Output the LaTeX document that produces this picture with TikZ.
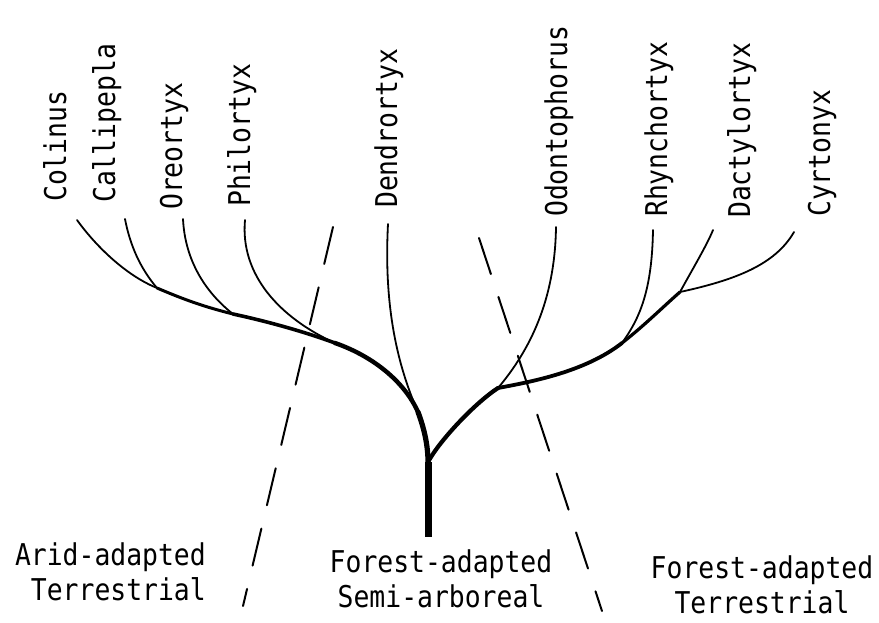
\documentclass[tikz,border=0pt]{standalone}
\usepackage{fontspec}
\newfontfamily\labelfont[FakeStretch=0.88]{DejaVu Sans Mono}

\begin{document}
\begin{tikzpicture}[x=1pt,y=-1pt,line cap=round,
    taxon/.style={rotate=90,anchor=base west,inner sep=0pt,
                  font=\labelfont\fontsize{30}{36}\selectfont},
    zone/.style={inner sep=0pt,font=\labelfont\fontsize{30}{35}\selectfont},
    twig/.style={line width=1.8pt},
    divide/.style={line width=2pt,dash pattern=on 38pt off 24pt}]

  \useasboundingbox (0,0) rectangle (879,622);

  % genera
  \node[taxon] (col) at (66,202) {Colinus};
  \node[taxon] (cal) at (115,203) {Callipepla};
  \node[taxon] (ore) at (182,210) {Oreortyx};
  \node[taxon] (phi) at (250,207) {Philortyx};
  \node[taxon] (den) at (397,208) {Dendrortyx};
  \node[taxon] (odo) at (567,217) {Odontophorus};
  \node[taxon] (rhy) at (667,217) {Rhynchortyx};
  \node[taxon] (dac) at (750,218) {Dactylortyx};
  \node[taxon] (cyr) at (830,217) {Cyrtonyx};

  % habitat groups
  \node[zone,align=right,anchor=north east] (arid) at (206,542)
    {Arid-adapted\\Terrestrial};
  \node[zone,align=center,anchor=north] (semi) at (441,549)
    {Forest-adapted\\Semi-arboreal};
  \node[zone,align=center,anchor=north] (terr) at (762,555)
    {Forest-adapted\\Terrestrial};

  % tips and forks
  \coordinate (col tip) at (77,220);
  \coordinate (cal tip) at (125,219);
  \coordinate (ore tip) at (183,219);
  \coordinate (phi tip) at (245,220);
  \coordinate (den tip) at (388,224);
  \coordinate (odo tip) at (556,227);
  \coordinate (rhy tip) at (653,230);
  \coordinate (dac tip) at (713,230);
  \coordinate (cyr tip) at (794,232);
  \coordinate (jCal) at (157,288);
  \coordinate (jOre) at (233,314);
  \coordinate (jPhi) at (335,343);
  \coordinate (jDen) at (418,412);
  \coordinate (fork) at (428,462);
  \coordinate (root) at (428,537);
  \coordinate (jOdo) at (498,388);
  \coordinate (jRhy) at (622,343);
  \coordinate (jDac) at (680,292);

  % twigs
  \draw[twig] (col tip) .. controls (95,245) and (125,275) .. (jCal);
  \draw[twig] (cal tip) .. controls (130,245) and (140,268) .. (jCal);
  \draw[twig] (ore tip) .. controls (185,260) and (205,292) .. (jOre);
  \draw[twig] (phi tip) .. controls (240,275) and (280,318) .. (jPhi);
  \draw[twig] (den tip) .. controls (384,300) and (395,360) .. (jDen);
  \draw[twig] (odo tip) .. controls (555,300) and (530,350) .. (jOdo);
  \draw[twig] (rhy tip) .. controls (652,290) and (640,318) .. (jRhy);
  \draw[twig] (dac tip) .. controls (707,245) and (692,270) .. (jDac);
  \draw[twig] (cyr tip) .. controls (775,265) and (735,280) .. (jDac);

  % limbs
  \draw[line width=3pt] (jCal) .. controls (185,300) and (205,307) .. (jOre);
  \draw[line width=3.6pt] (jOre) .. controls (270,322) and (305,332) .. (jPhi);
  \draw[line width=4.4pt] (jPhi) .. controls (375,357) and (405,383) .. (jDen);
  \draw[line width=5.2pt] (jDen) .. controls (424,428) and (428,445) .. (fork);
  \draw[line width=7pt,line cap=butt] (fork) -- (root);
  \draw[line width=4.2pt] (fork) .. controls (440,440) and (475,403) .. (jOdo);
  \draw[line width=3.8pt] (jOdo) .. controls (530,382) and (585,372) .. (jRhy);
  \draw[line width=3.2pt] (jRhy) .. controls (645,325) and (665,305) .. (jDac);

  % boundaries
  \coordinate (left top) at (333,227);
  \coordinate (left end) at (243,606);
  \coordinate (right top) at (479,238);
  \coordinate (right end) at (602,611);
  \draw[divide] (left top) -- (left end);
  \draw[divide] (right top) -- (right end);

\end{tikzpicture}
\end{document}
